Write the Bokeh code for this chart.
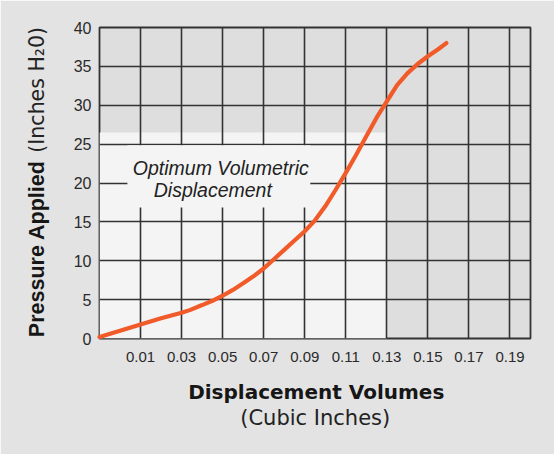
from bokeh.plotting import figure
from bokeh.models import FixedTicker, BoxAnnotation, Label, ColumnDataSource
from bokeh.embed import file_html
from bokeh.resources import INLINE

# ---- data ----
volume = [-0.01, 0.0, 0.01, 0.02, 0.03, 0.034, 0.04, 0.045, 0.05, 0.055, 0.06,
          0.065, 0.07, 0.075, 0.08, 0.085, 0.09, 0.095, 0.10, 0.105, 0.11,
          0.115, 0.12, 0.125, 0.13, 0.135, 0.14, 0.145, 0.15, 0.155, 0.159]
pressure = [0.2, 1.0, 1.8, 2.6, 3.3, 3.65, 4.3, 4.85, 5.5, 6.25, 7.1,
            8.0, 9.0, 10.2, 11.4, 12.6, 13.8, 15.2, 17.0, 19.1, 21.3,
            23.6, 26.0, 28.4, 30.5, 32.6, 34.1, 35.3, 36.3, 37.2, 38.0]

x_ticks = [0.01, 0.03, 0.05, 0.07, 0.09, 0.11, 0.13, 0.15, 0.17, 0.19]
x_tick_labels = ["0.01", "0.03", "0.05", "0.07", "0.09", "0.11", "0.13", "0.15", "0.17", "0.19"]
y_ticks = [0, 5, 10, 15, 20, 25, 30, 35, 40]
y_tick_labels = ["0", "5", "10", "15", "20", "25", "30", "35", "40"]

# optimum zone (data units)
zone_right = 0.13
zone_top = 26.5

GRID = "#333333"
PANEL = "#e3e3e3"
DARK_ZONE = "#dedede"
LIGHT_ZONE = "#f4f4f4"

p = figure(width=554, height=454, output_backend="svg", toolbar_location=None,
           x_range=(-0.01, 0.2), y_range=(0, 40),
           min_border_left=99, min_border_right=24, min_border_top=27, min_border_bottom=116)

p.background_fill_color = DARK_ZONE
p.border_fill_color = PANEL
p.outline_line_color = GRID
p.outline_line_width = 1.8

# axes
p.xaxis.ticker = FixedTicker(ticks=x_ticks)
p.xaxis.major_label_overrides = dict(zip(x_ticks, x_tick_labels))
p.yaxis.ticker = FixedTicker(ticks=y_ticks)
p.yaxis.major_label_overrides = dict(zip(y_ticks, y_tick_labels))
for ax in (p.xaxis, p.yaxis):
    ax.axis_line_color = None
    ax.major_tick_line_color = None
    ax.minor_tick_line_color = None
    ax.major_tick_out = 0
    ax.major_tick_in = 0
    ax.major_label_text_font = "Liberation Sans"
    ax.major_label_text_color = "#2a2a2a"
p.xaxis.major_label_text_font_size = "15px"
p.yaxis.major_label_text_font_size = "16px"
p.xaxis.major_label_standoff = 13
p.yaxis.major_label_standoff = 8
p.yaxis.major_label_text_baseline = "alphabetic"

# grid
p.xgrid.ticker = FixedTicker(ticks=x_ticks)
p.ygrid.ticker = FixedTicker(ticks=y_ticks)
for g in (p.xgrid, p.ygrid):
    g.grid_line_color = GRID
    g.grid_line_width = 1.6

# light optimum zone under the grid
p.add_layout(BoxAnnotation(left=-0.01, right=zone_right, bottom=0, top=zone_top,
                           fill_color=LIGHT_ZONE, fill_alpha=1, line_color=None,
                           level="image"))

# box behind the zone caption
p.add_layout(BoxAnnotation(left=0.0036, right=0.0927, bottom=16.85, top=24.85,
                           fill_color=LIGHT_ZONE, fill_alpha=1, line_color=None,
                           level="glyph"))

src = ColumnDataSource(dict(x=volume, y=pressure))
r = p.line("x", "y", source=src, line_color="#f15a29", line_width=4.2, line_cap="round")
r.level = "overlay"

cap_style = dict(text_font="Liberation Sans", text_font_style="italic",
                 text_font_size="19.5px", text_color="#222222",
                 text_align="center", text_baseline="alphabetic", level="overlay")
p.add_layout(Label(x=0.0491, y=21.99, text="Optimum Volumetric", **cap_style))
p.add_layout(Label(x=0.0452, y=19.16, text="Displacement", **cap_style))

# axis titles (placed in the side panels so they are not clipped to the frame)
p.add_layout(Label(x=0.0956, y=-6.94, text="Displacement Volumes",
                   text_font="DejaVu Sans", text_font_style="bold", text_font_size="20px",
                   text_color="#161616", text_align="center", text_baseline="alphabetic"),
             "below")
p.add_layout(Label(x=0.0951, y=-10.2, text="(Cubic Inches)",
                   text_font="DejaVu Sans", text_font_size="21px",
                   text_color="#222222", text_align="center", text_baseline="alphabetic"),
             "below")
p.add_layout(Label(x=-0.0404, y=0.17, text="Pressure Applied", angle=1.5707963,
                   text_font="Liberation Sans", text_font_style="bold", text_font_size="21.5px",
                   text_color="#161616", text_align="left", text_baseline="alphabetic"),
             "left")
p.add_layout(Label(x=-0.0404, y=23.9, text="(Inches H\u20820)", angle=1.5707963,
                   text_font="DejaVu Sans", text_font_size="20.5px",
                   text_color="#222222", text_align="left", text_baseline="alphabetic"),
             "left")

open("out.html", "w").write(file_html(p, INLINE))
